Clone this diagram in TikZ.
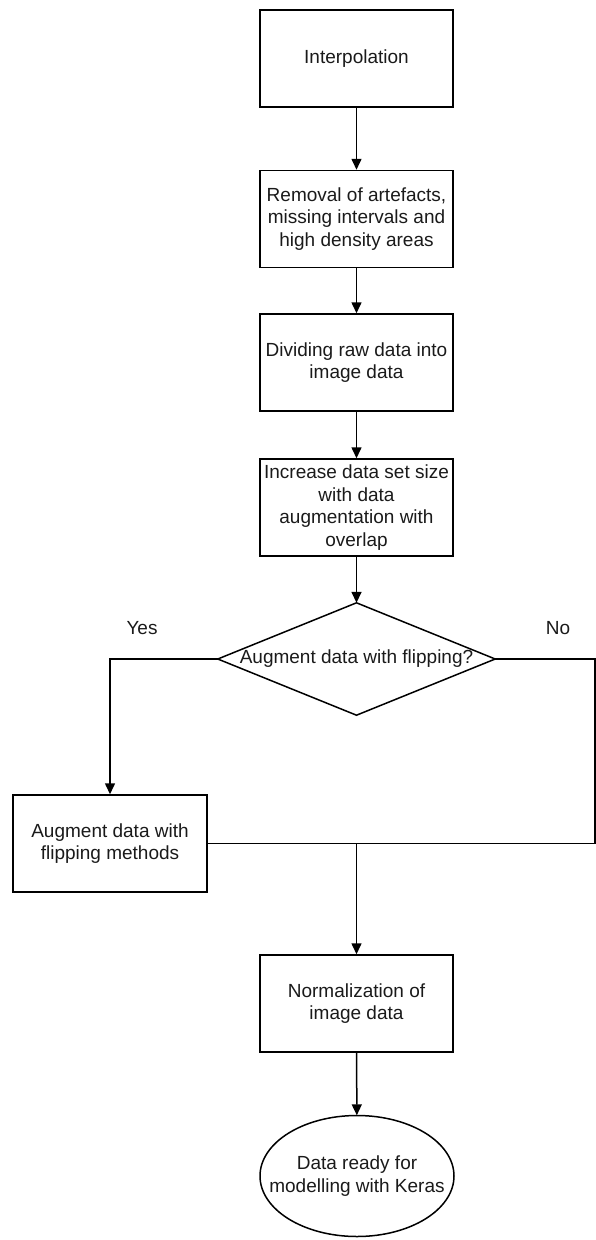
\documentclass[tikz,border=0pt]{standalone}
\usepackage{fontspec}
\setmainfont{Liberation Sans}
\usetikzlibrary{shapes.geometric,arrows.meta}
\definecolor{txt}{HTML}{1A1A1A}
\begin{document}
\begin{tikzpicture}[x=1pt,y=-1pt,
  every node/.style={font=\fontsize{19}{22.5}\selectfont, text=txt},
  procbox/.style={draw=black, line width=1.5pt, rectangle, minimum width=193pt, minimum height=97pt, align=center, inner sep=0pt},
  endarea/.style={rectangle, minimum width=194pt, minimum height=121pt, align=center, inner sep=0pt},
  conn/.style={draw=black, line width=1.5pt},
  arr/.style={conn, -{Triangle[length=11pt,width=10pt]}},
  lbl/.style={inner sep=0pt}
]
\useasboundingbox (0,0) rectangle (596,1240);
\node[procbox] (b1) at (356.5,58.5) {Interpolation};
\node[procbox] (b2) at (356.5,219) {Removal of artefacts,\\missing intervals and\\high density areas};
\node[procbox] (b3) at (356.5,362.5) {Dividing raw data into\\image data};
\node[procbox] (b4) at (356.5,507.5) {Increase data set size\\with data\\augmentation with\\overlap};
\node[rectangle, minimum width=277pt, minimum height=112pt, inner sep=0pt] (d) at (356.5,659) {Augment data with flipping?};
\draw[conn] (d.north) -- (d.east) -- (d.south) -- (d.west) -- cycle;
\node[procbox, minimum width=194pt] (b5) at (110,843.5) {Augment data with\\flipping methods};
\node[procbox] (b6) at (356.5,1003.5) {Normalization of\\image data};
\node[endarea] (e) at (357,1176) {Data ready for\\modelling with Keras};
\draw[conn] (e.center) ellipse [x radius=97pt, y radius=60.5pt];
\node[lbl] (yes) at (142,628) {Yes};
\node[lbl] (no) at (558,628) {No};
\coordinate (r2) at (595,843.5);
\coordinate (j) at (356.5,843.5);
\draw[arr] (b1) -- (b2);
\draw[arr] (b2) -- (b3);
\draw[arr] (b3) -- (b4);
\draw[arr] (b4) -- (d.north);
\draw[arr] (d.west) -| (b5.north);
\draw[conn] (d.east) -| (r2) -- (b5.east);
\draw[arr] (j) -- (b6.north);
\draw[arr] (b6) -- (e);
\end{tikzpicture}
\end{document}
